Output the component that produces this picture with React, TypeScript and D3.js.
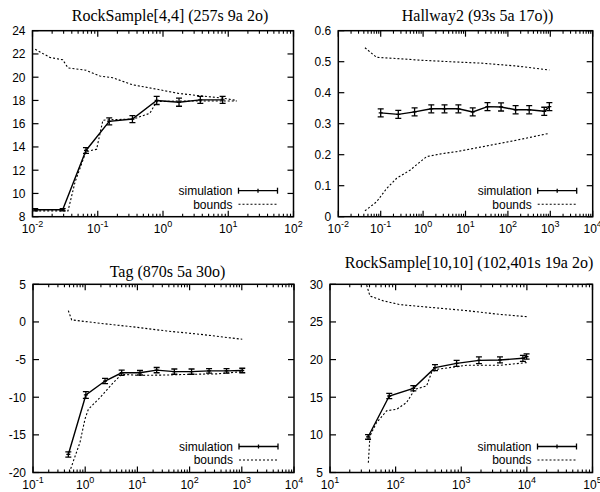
import React from "react";
import * as d3 from "d3";

// ---------- Panel 1: RockSample[4,4] ----------
const rs44SimX = [0.011, 0.029, 0.066, 0.15, 0.34, 0.8, 1.76, 3.73, 8.2];
const rs44SimY = [8.6, 8.6, 13.7, 16.2, 16.4, 18.0, 17.85, 18.05, 18.05];
const rs44SimErr = [0.1, 0.1, 0.25, 0.3, 0.3, 0.35, 0.35, 0.3, 0.3];
const rs44UpX = [0.011, 0.0185, 0.029, 0.035, 0.066, 0.108, 0.17, 0.34, 0.8, 1.76, 3.73, 8.2, 13.5];
const rs44UpY = [22.4, 21.7, 21.5, 20.8, 20.6, 20.1, 19.95, 19.35, 18.97, 18.6, 18.4, 18.2, 18.0];
const rs44LoX = [0.011, 0.035, 0.045, 0.066, 0.096, 0.12, 0.17, 0.35, 0.63, 0.8, 1.76, 3.73, 8.2, 13.5];
const rs44LoY = [8.5, 8.5, 11.0, 13.6, 13.8, 16.3, 16.35, 16.4, 16.9, 17.9, 17.95, 17.95, 17.95, 17.95];

// ---------- Panel 2: Hallway2 ----------
const hwSimX = [0.1, 0.26, 0.63, 1.56, 3.2, 6.8, 14.8, 33, 69, 152, 318, 720, 950];
const hwSimY = [0.335, 0.33, 0.338, 0.348, 0.348, 0.348, 0.338, 0.355, 0.354, 0.345, 0.345, 0.34, 0.355];
const hwSimErr = [0.013, 0.013, 0.013, 0.013, 0.013, 0.013, 0.013, 0.013, 0.013, 0.013, 0.013, 0.013, 0.013];
const hwUpX = [0.0425, 0.08, 0.198, 0.84, 4.3, 26, 162, 950];
const hwUpY = [0.545, 0.514, 0.511, 0.505, 0.5, 0.495, 0.486, 0.473];
const hwLoX = [0.0425, 0.08, 0.138, 0.238, 0.49, 1.21, 3.0, 6.2, 26, 162, 950];
const hwLoY = [0.019, 0.048, 0.091, 0.124, 0.15, 0.194, 0.204, 0.21, 0.226, 0.247, 0.269];

// ---------- Panel 3: Tag ----------
const tagSimX = [0.475, 1.03, 2.4, 5.0, 11.2, 23.4, 51, 109, 236, 510, 1020];
const tagSimY = [-17.6, -9.7, -7.85, -6.75, -6.75, -6.4, -6.6, -6.6, -6.5, -6.5, -6.45];
const tagSimErr = [0.35, 0.45, 0.35, 0.35, 0.3, 0.35, 0.35, 0.35, 0.3, 0.3, 0.3];
const tagUpX = [0.475, 0.55, 1.92, 8.4, 36, 158, 1020];
const tagUpY = [1.5, 0.27, -0.18, -0.66, -1.2, -1.64, -2.3];
const tagLoX = [0.497, 0.795, 0.99, 1.15, 1.92, 3.46, 5.0, 11.2, 36, 109, 330, 1020];
const tagLoY = [-20, -16.0, -12.9, -11.6, -10.05, -8.06, -6.95, -7.1, -7.05, -6.95, -6.9, -6.6];

// ---------- Panel 4: RockSample[10,10] ----------
const rs1010SimX = [38, 80, 186, 398, 850, 1860, 3890, 8700, 9900];
const rs1010SimY = [9.72, 15.16, 16.18, 18.93, 19.5, 19.9, 19.95, 20.17, 20.4];
const rs1010SimErr = [0.3, 0.35, 0.35, 0.4, 0.4, 0.45, 0.4, 0.4, 0.35];
const rs1010UpX = [36.2, 40.6, 65, 117, 375, 1210, 3890, 9900];
const rs1010UpY = [29.9, 28.45, 27.8, 27.3, 26.9, 26.5, 26.0, 25.7];
const rs1010LoX = [38.4, 40.6, 51, 73, 104, 147, 197, 297, 354, 422, 1210, 3890, 9900];
const rs1010LoY = [6.3, 9.85, 11.6, 13.2, 13.4, 14.3, 16.05, 16.5, 18.3, 18.7, 19.24, 19.24, 19.6];

// ---------- Axis tick labels ----------
const rs44YTicks = [8, 10, 12, 14, 16, 18, 20, 22, 24];
const hwYTicks = [0, 0.1, 0.2, 0.3, 0.4, 0.5, 0.6];
const tagYTicks = [-20, -15, -10, -5, 0, 5];
const rs1010YTicks = [5, 10, 15, 20, 25, 30];
const rs44XExp = [-2, -1, 0, 1, 2];
const hwXExp = [-2, -1, 0, 1, 2, 3, 4];
const tagXExp = [-1, 0, 1, 2, 3, 4];
const rs1010XExp = [1, 2, 3, 4, 5];

const titles = [
  "RockSample[4,4] (257s 9a 2o)",
  "Hallway2 (93s 5a 17o))",
  "Tag (870s 5a 30o)",
  "RockSample[10,10] (102,401s 19a 2o)",
];
const legendLabels = ["simulation", "bounds"];

type PanelProps = {
  box: { left: number; right: number; top: number; bottom: number };
  title: string;
  titleX: number;
  titleY: number;
  xExp: number[];
  yTicks: number[];
  simX: number[];
  simY: number[];
  simErr: number[];
  upX: number[];
  upY: number[];
  loX: number[];
  loY: number[];
};

const SANS = "'Liberation Sans', Arial, Helvetica, sans-serif";
const SERIF = "'Liberation Serif', 'Times New Roman', serif";

function Panel(p: PanelProps) {
  const { box } = p;
  const xMin = Math.pow(10, p.xExp[0]);
  const xMax = Math.pow(10, p.xExp[p.xExp.length - 1]);
  const x = d3.scaleLog().domain([xMin, xMax]).range([box.left, box.right]);
  const y = d3
    .scaleLinear()
    .domain([p.yTicks[0], p.yTicks[p.yTicks.length - 1]])
    .range([box.bottom, box.top]);

  const line = d3
    .line<[number, number]>()
    .x((d) => x(d[0]))
    .y((d) => y(d[1]));

  const sim = p.simX.map((v, i) => [v, p.simY[i]] as [number, number]);
  const up = p.upX.map((v, i) => [v, p.upY[i]] as [number, number]);
  const lo = p.loX.map((v, i) => [v, p.loY[i]] as [number, number]);

  const minor: number[] = [];
  for (let e = p.xExp[0]; e < p.xExp[p.xExp.length - 1]; e++) {
    for (let k = 2; k <= 9; k++) minor.push(k * Math.pow(10, e));
  }
  const majorLen = 6;
  const minorLen = 3;
  const clipId = "clip" + Math.round(box.left) + "_" + Math.round(box.top);

  const legX1 = box.right - 55;
  const legX2 = box.right - 16;
  const legTextX = box.right - 61;
  const legY1 = box.bottom - 26;
  const legY2 = box.bottom - 12.5;

  return (
    <g>
      <defs>
        <clipPath id={clipId}>
          <rect x={box.left} y={box.top} width={box.right - box.left} height={box.bottom - box.top} />
        </clipPath>
      </defs>
      <text x={p.titleX} y={p.titleY} textAnchor="middle" fontFamily={SERIF} fontSize={16} fill="#000">
        {p.title}
      </text>
      {/* y ticks */}
      {p.yTicks.map((t) => (
        <g key={"y" + t}>
          <line x1={box.left} x2={box.left + majorLen} y1={y(t)} y2={y(t)} stroke="#000" strokeWidth={1.2} />
          <line x1={box.right} x2={box.right - majorLen} y1={y(t)} y2={y(t)} stroke="#000" strokeWidth={1.2} />
          <text
            x={box.left - 7}
            y={y(t)}
            dy="0.36em"
            textAnchor="end"
            fontFamily={SANS}
            fontSize={12}
            fill="#000"
          >
            {String(t)}
          </text>
        </g>
      ))}
      {/* x major ticks */}
      {p.xExp.map((e) => {
        const xv = x(Math.pow(10, e));
        return (
          <g key={"x" + e}>
            <line x1={xv} x2={xv} y1={box.bottom} y2={box.bottom - majorLen} stroke="#000" strokeWidth={1.2} />
            <line x1={xv} x2={xv} y1={box.top} y2={box.top + majorLen} stroke="#000" strokeWidth={1.2} />
            <text x={xv} y={box.bottom + 16} textAnchor="middle" fontFamily={SANS} fontSize={12} fill="#000">
              <tspan>10</tspan>
              <tspan dy={-5.5} fontSize={9}>
                {String(e)}
              </tspan>
            </text>
          </g>
        );
      })}
      {minor.map((m, i) => (
        <g key={"m" + i}>
          <line x1={x(m)} x2={x(m)} y1={box.bottom} y2={box.bottom - minorLen} stroke="#000" strokeWidth={1.1} />
          <line x1={x(m)} x2={x(m)} y1={box.top} y2={box.top + minorLen} stroke="#000" strokeWidth={1.1} />
        </g>
      ))}
      <g clipPath={`url(#${clipId})`}>
        <path d={line(up) || ""} fill="none" stroke="#000" strokeWidth={1.1} strokeDasharray="2,2" />
        <path d={line(lo) || ""} fill="none" stroke="#000" strokeWidth={1.1} strokeDasharray="2,2" />
        <path d={line(sim) || ""} fill="none" stroke="#000" strokeWidth={1.4} />
        {sim.map((d, i) => {
          const cx = x(d[0]);
          const y1 = y(d[1] - p.simErr[i]);
          const y2 = y(d[1] + p.simErr[i]);
          return (
            <g key={"e" + i} stroke="#000" strokeWidth={1.3}>
              <line x1={cx} x2={cx} y1={y1} y2={y2} />
              <line x1={cx - 3} x2={cx + 3} y1={y1} y2={y1} />
              <line x1={cx - 3} x2={cx + 3} y1={y2} y2={y2} />
              <line x1={cx - 2} x2={cx + 2} y1={y(d[1])} y2={y(d[1])} />
            </g>
          );
        })}
      </g>
      {/* legend */}
      <text x={legTextX} y={legY1} dy="0.36em" textAnchor="end" fontFamily={SANS} fontSize={12} fill="#000">
        {legendLabels[0]}
      </text>
      <g stroke="#000" strokeWidth={1.3}>
        <line x1={legX1} x2={legX2} y1={legY1} y2={legY1} />
        <line x1={legX1} x2={legX1} y1={legY1 - 3} y2={legY1 + 3} />
        <line x1={legX2} x2={legX2} y1={legY1 - 3} y2={legY1 + 3} />
        <line x1={(legX1 + legX2) / 2} x2={(legX1 + legX2) / 2} y1={legY1 - 2} y2={legY1 + 2} />
      </g>
      <text x={legTextX} y={legY2} dy="0.36em" textAnchor="end" fontFamily={SANS} fontSize={12} fill="#000">
        {legendLabels[1]}
      </text>
      <line x1={legX1} x2={legX2} y1={legY2} y2={legY2} stroke="#000" strokeWidth={1.1} strokeDasharray="2,2" />
      {/* frame */}
      <rect
        x={box.left}
        y={box.top}
        width={box.right - box.left}
        height={box.bottom - box.top}
        fill="none"
        stroke="#000"
        strokeWidth={1.5}
      />
    </g>
  );
}

export default function App() {
  return (
    <svg
      width={600}
      height={492}
      style={{ position: "absolute", left: 0, top: 0, background: "#fff" }}
    >
      <rect x={0} y={0} width={600} height={492} fill="#fff" />
      <Panel
        box={{ left: 32.5, right: 293.5, top: 30.7, bottom: 216.7 }}
        title={titles[0]}
        titleX={170}
        titleY={20.5}
        xExp={rs44XExp}
        yTicks={rs44YTicks}
        simX={rs44SimX}
        simY={rs44SimY}
        simErr={rs44SimErr}
        upX={rs44UpX}
        upY={rs44UpY}
        loX={rs44LoX}
        loY={rs44LoY}
      />
      <Panel
        box={{ left: 338.3, right: 592.7, top: 30.7, bottom: 216.7 }}
        title={titles[1]}
        titleX={477.5}
        titleY={20.5}
        xExp={hwXExp}
        yTicks={hwYTicks}
        simX={hwSimX}
        simY={hwSimY}
        simErr={hwSimErr}
        upX={hwUpX}
        upY={hwUpY}
        loX={hwLoX}
        loY={hwLoY}
      />
      <Panel
        box={{ left: 33, right: 294, top: 284.3, bottom: 472.5 }}
        title={titles[2]}
        titleX={167.5}
        titleY={276.7}
        xExp={tagXExp}
        yTicks={tagYTicks}
        simX={tagSimX}
        simY={tagSimY}
        simErr={tagSimErr}
        upX={tagUpX}
        upY={tagUpY}
        loX={tagLoX}
        loY={tagLoY}
      />
      <Panel
        box={{ left: 330, right: 592.5, top: 284.3, bottom: 472.5 }}
        title={titles[3]}
        titleX={469}
        titleY={267.7}
        xExp={rs1010XExp}
        yTicks={rs1010YTicks}
        simX={rs1010SimX}
        simY={rs1010SimY}
        simErr={rs1010SimErr}
        upX={rs1010UpX}
        upY={rs1010UpY}
        loX={rs1010LoX}
        loY={rs1010LoY}
      />
    </svg>
  );
}
